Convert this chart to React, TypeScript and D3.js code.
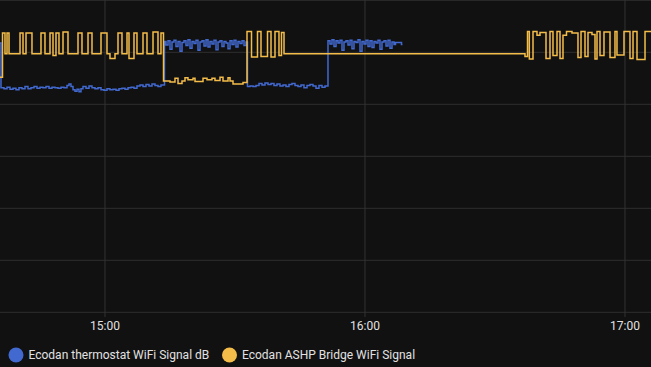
import React from "react";
import * as d3 from "d3";

// time = minutes past 14:00
const blueTimes = [35.77, 36.0, 36.69, 37.39, 38.08, 38.77, 39.46, 40.15, 40.85, 41.54, 42.23, 42.92, 43.62, 44.31, 45.0, 45.69, 46.38, 47.08, 47.77, 48.46, 49.15, 49.85, 50.54, 51.23, 51.69, 52.15, 52.62, 53.08, 53.54, 54.0, 54.46, 54.92, 55.62, 56.31, 57.0, 57.69, 58.38, 59.08, 59.77, 60.46, 61.15, 61.85, 62.54, 63.23, 63.92, 64.62, 65.31, 66.0, 66.69, 67.38, 68.08, 68.77, 69.46, 70.15, 70.85, 71.54, 72.23, 72.92,
  73.73, 74.08, 74.54, 75.0, 75.46, 75.92, 76.38, 76.85, 77.31, 77.77, 78.23, 78.69, 79.15, 79.62, 80.08, 80.54, 81.0, 81.46, 81.92, 82.39, 82.85, 83.31, 83.77, 84.23, 84.69, 85.15, 85.62, 86.08, 86.54, 87.0, 87.46, 87.92, 88.39, 88.85, 89.31, 89.77, 90.23, 90.69, 91.15, 91.62, 92.08, 92.54,
  92.88, 93.46, 94.15, 94.85, 95.54, 96.23, 96.92, 97.62, 98.31, 99.0, 99.69, 100.38, 101.08, 101.77, 102.46, 103.15, 103.85, 104.54, 105.23, 105.92, 106.62, 107.31, 108.0, 108.69, 109.38, 110.08, 110.77,
  111.46, 111.92, 112.38, 112.85, 113.31, 113.77, 114.23, 114.69, 115.15, 115.62, 116.08, 116.54, 117.0, 117.46, 117.92, 118.39, 118.85, 119.31, 119.77, 120.23, 120.69, 121.15, 121.62, 122.08, 122.54, 123.0, 123.46, 123.92, 124.39, 124.85, 125.31, 125.77, 126.23, 126.69, 127.04, 128.42, 128.65];
const blueValues = [-48.2, -56.8, -57.0, -56.7, -57.1, -56.9, -57.2, -56.8, -57.0, -56.6, -57.0, -56.8, -56.6, -56.9, -56.7, -56.8, -56.6, -56.9, -56.7, -56.8, -56.9, -56.7, -56.8, -56.4, -56.1, -56.6, -57.2, -57.5, -57.1, -57.6, -57.0, -56.6, -56.9, -56.5, -56.8, -57.0, -56.8, -57.2, -57.3, -57.0, -57.2, -57.1, -57.3, -57.0, -56.9, -57.1, -56.8, -56.7, -56.9, -56.5, -56.3, -56.6, -56.2, -56.5, -56.1, -56.4, -56.6, -56.3,
  -47.9, -48.6, -47.8, -49.4, -48.0, -47.7, -48.9, -47.9, -49.8, -48.1, -47.8, -48.7, -47.6, -49.2, -47.9, -48.3, -47.7, -49.6, -48.0, -47.8, -48.8, -47.6, -49.0, -47.9, -48.4, -47.7, -49.5, -48.0, -47.8, -48.9, -47.9, -48.2, -49.3, -47.8, -48.5, -47.7, -49.0, -47.9, -48.3, -47.8, -48.7, -48.0,
  -56.6, -56.5, -56.6, -56.4, -56.0, -56.3, -55.9, -56.2, -56.0, -56.4, -56.1, -56.5, -56.3, -56.6, -56.2, -56.0, -56.4, -56.6, -56.3, -56.8, -56.4, -56.2, -56.5, -56.9, -56.4, -56.7, -56.5,
  -47.8, -48.4, -47.6, -48.9, -47.8, -48.2, -47.7, -49.6, -48.0, -47.8, -48.6, -47.7, -49.3, -47.9, -48.1, -47.6, -49.8, -47.9, -48.4, -47.7, -48.9, -47.8, -49.1, -47.9, -48.2, -47.7, -49.4, -48.0, -47.8, -48.8, -47.7, -49.2, -48.0, -48.5, -48.1, -48.5, -48.5];

const yellowTimes = [35.77, 36.35, 36.92, 37.39, 37.85, 40.39, 41.08, 41.77, 43.15, 45.23, 46.15, 47.31, 48.0, 48.69, 49.38, 50.31, 51.46, 53.77, 54.69, 56.08, 57.0, 59.08, 60.46, 61.15, 62.31, 63.0, 63.92, 65.08, 65.54, 66.69, 67.38, 68.77, 69.69, 71.08, 72.23, 72.92,
  73.5, 75.0, 76.15, 76.85, 77.77, 78.46, 79.15, 80.31, 80.77, 82.62, 83.54, 84.69, 85.38, 86.54, 87.23, 88.39, 88.85, 89.54, 91.85,
  92.77, 93.81, 95.19, 96.0, 97.5, 98.31, 99.23, 100.15, 100.73, 101.31,
  156.92, 157.5, 157.92, 158.77, 159.69, 160.38, 161.77, 162.69, 163.38, 164.31, 165.0, 165.69, 166.5, 167.77, 169.15, 169.85, 170.77, 171.46, 172.38, 173.08, 173.54, 174.23, 175.15, 176.54, 177.69, 178.15, 179.77, 181.15, 181.85, 182.77, 184.62, 186.3];
const yellowValues = [-54.8, -46.3, -50.3, -46.3, -50.3, -46.3, -50.3, -46.3, -50.3, -46.3, -50.3, -46.3, -50.6, -46.3, -50.3, -46.1, -50.3, -46.3, -50.3, -46.3, -50.3, -46.3, -50.3, -51.2, -50.3, -46.3, -50.3, -46.3, -51.2, -46.3, -50.3, -46.3, -50.3, -46.1, -50.3, -46.3,
  -55.5, -55.7, -55.0, -56.0, -55.5, -54.9, -55.3, -55.0, -55.6, -55.0, -55.3, -55.0, -55.4, -54.8, -55.5, -54.9, -55.5, -56.1, -55.8,
  -46.0, -50.9, -46.0, -50.8, -46.0, -50.9, -46.0, -50.6, -46.2, -50.3,
  -50.8, -46.0, -51.3, -46.0, -46.7, -46.2, -51.2, -46.0, -50.6, -46.0, -51.2, -46.7, -46.0, -46.3, -51.0, -46.0, -50.8, -46.2, -46.6, -51.3, -46.0, -50.6, -46.1, -51.0, -46.0, -50.5, -46.0, -51.2, -46.0, -51.4, -46.0, -46.0];

const yTicks = [-100, -90, -80, -70, -60, -50, -40];
const seriesNames = ["Ecodan thermostat WiFi Signal dB", "Ecodan ASHP Bridge WiFi Signal"];
const seriesColors = ["#4269d0", "#f4bd4a"];

const W = 651;
const H = 367;
const base = new Date(2024, 0, 15, 14, 0, 0).getTime();
const toDate = (m: number) => new Date(base + m * 60000);

export default function App() {
  const x = d3.scaleTime().domain([toDate(35.77), toDate(186.0)]).range([0, W]);
  const y = d3.scaleLinear().domain([-100, -40]).range([312.3, 0.3]);
  const xTicks = x.ticks(d3.timeHour.every(1) as any);
  const fmt = d3.timeFormat("%H:%M");
  const line = d3.line<[number, number]>()
    .x((d) => x(toDate(d[0])))
    .y((d) => y(d[1]))
    .curve(d3.curveStepAfter);
  const blue: [number, number][] = blueTimes.map((t, i) => [t, blueValues[i]]);
  const yellow: [number, number][] = yellowTimes.map((t, i) => [t, yellowValues[i]]);
  const legendX = [16, 229.5];
  return (
    <svg width={W} height={H} style={{ position: "absolute", left: 0, top: 0, background: "#111111", fontFamily: "Roboto, sans-serif" }}>
      <rect x={0} y={0} width={W} height={H} fill="#111111" />
      {yTicks.map((t) => (
        <line key={t} x1={0} x2={W} y1={y(t)} y2={y(t)} stroke="#2f2f2f" strokeWidth={1} />
      ))}
      {xTicks.map((t, i) => (
        <g key={i}>
          <line x1={x(t)} x2={x(t)} y1={0} y2={317} stroke="#333333" strokeWidth={1} />
          <text x={x(t)} y={329.5} textAnchor="middle" fontSize={12} fill="#e1e1e1">{fmt(t)}</text>
        </g>
      ))}
      <path d={line(blue) || ""} fill="none" stroke={seriesColors[0]} strokeWidth={1.5} strokeLinejoin="miter" />
      <path d={line(yellow) || ""} fill="none" stroke={seriesColors[1]} strokeWidth={1.5} strokeLinejoin="miter" />
      {seriesNames.map((n, i) => (
        <g key={n}>
          <circle cx={legendX[i]} cy={355} r={7.5} fill={seriesColors[i]} />
          <text x={legendX[i] + 12.5} y={359.3} fontSize={12} fill="#e1e1e1">{n}</text>
        </g>
      ))}
    </svg>
  );
}
